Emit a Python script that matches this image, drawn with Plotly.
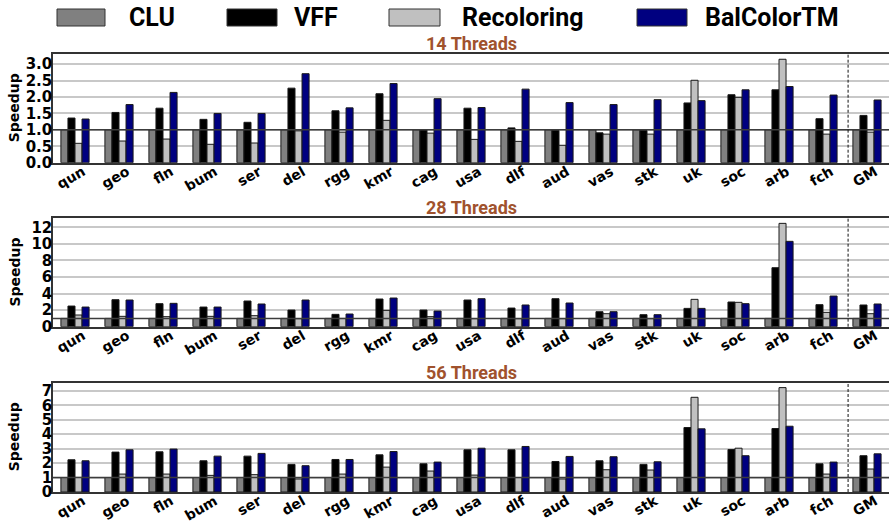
import plotly.graph_objects as go
from plotly.subplots import make_subplots

graphs = ["qun", "geo", "fln", "bum", "ser", "del", "rgg", "kmr", "cag", "usa",
          "dlf", "aud", "vas", "stk", "uk", "soc", "arb", "fch", "GM"]
series = ["CLU", "VFF", "Recoloring", "BalColorTM"]
colors = ["#808080", "#000000", "#c0c0c0", "#000080"]
panel_titles = ["14 Threads", "28 Threads", "56 Threads"]
y_title = "Speedup"

# 14 threads
clu_14 = [1.0, 1.0, 1.0, 1.0, 1.0, 1.0, 1.0, 1.0, 1.0, 1.0, 1.0, 1.0, 1.0, 1.0, 1.0, 1.0, 1.0, 1.0, 1.0]
vff_14 = [1.36, 1.53, 1.66, 1.32, 1.23, 2.27, 1.58, 2.10, 1.00, 1.66, 1.06, 0.98, 0.91, 0.98, 1.82, 2.07, 2.22, 1.34, 1.44]
rec_14 = [0.59, 0.66, 0.72, 0.56, 0.60, 0.97, 0.93, 1.29, 0.90, 0.71, 0.65, 0.53, 0.87, 0.87, 2.51, 1.99, 3.15, 0.87, 0.93]
bal_14 = [1.33, 1.77, 2.14, 1.50, 1.50, 2.71, 1.67, 2.41, 1.95, 1.68, 2.24, 1.83, 1.77, 1.92, 1.89, 2.22, 2.32, 2.06, 1.91]

# 28 threads
clu_28 = [1.0, 1.0, 1.0, 1.0, 1.0, 1.0, 1.0, 1.0, 1.0, 1.0, 1.0, 1.0, 1.0, 1.0, 1.0, 1.0, 1.0, 1.0, 1.0]
vff_28 = [2.49, 3.26, 2.78, 2.37, 3.10, 2.01, 1.49, 3.34, 2.01, 3.22, 2.25, 3.38, 1.81, 1.45, 2.21, 2.98, 7.12, 2.66, 2.62]
rec_28 = [1.41, 1.25, 1.21, 1.25, 1.33, 0.97, 1.00, 1.97, 1.21, 0.97, 0.97, 0.97, 1.57, 0.97, 3.30, 2.94, 12.47, 1.73, 1.57]
bal_28 = [2.37, 3.22, 2.82, 2.37, 2.74, 3.22, 1.53, 3.46, 1.89, 3.38, 2.62, 2.86, 1.81, 1.45, 2.21, 2.78, 10.30, 3.70, 2.74]

# 56 threads
clu_56 = [1.0, 1.0, 1.0, 1.0, 1.0, 1.0, 1.0, 1.0, 1.0, 1.0, 1.0, 1.0, 1.0, 1.0, 1.0, 1.0, 1.0, 1.0, 1.0]
vff_56 = [2.23, 2.76, 2.78, 2.16, 2.48, 1.91, 2.25, 2.57, 1.95, 2.92, 2.92, 2.11, 2.16, 1.91, 4.46, 2.94, 4.39, 1.95, 2.51]
rec_56 = [1.01, 1.24, 1.24, 1.15, 1.20, 0.90, 1.24, 1.72, 1.45, 1.17, 1.00, 0.90, 1.54, 1.52, 6.55, 3.03, 7.22, 1.24, 1.59]
bal_56 = [2.16, 2.92, 2.97, 2.48, 2.67, 1.82, 2.25, 2.80, 2.07, 3.03, 3.15, 2.46, 2.44, 2.09, 4.37, 2.51, 4.55, 2.07, 2.64]

panels = [
    [clu_14, vff_14, rec_14, bal_14],
    [clu_28, vff_28, rec_28, bal_28],
    [clu_56, vff_56, rec_56, bal_56],
]
y_ranges = [[0, 3.31], [0, 13.08], [0, 7.56]]
y_dticks = [0.5, 2, 1]
y_formats = [".1f", "d", "d"]

W, H = 889, 528
ML, MR, MT, MB = 53, 0, 54, 36
PW, PH = W - ML - MR, H - MT - MB


def px_x(px):
    return (px - ML) / PW


def px_y(py):
    return (H - MB - py) / PH


domains = [[px_y(162.7), 1.0], [px_y(326.7), px_y(218.3)], [0.0, px_y(382.7)]]

fig = make_subplots(rows=3, cols=1, shared_xaxes=False, vertical_spacing=0.05)

for r, data in enumerate(panels, start=1):
    for s, (name, col, vals) in enumerate(zip(series, colors, data)):
        fig.add_trace(go.Bar(
            x=graphs, y=vals, name=name, showlegend=False,
            marker=dict(color=col, line=dict(color="#1a1a1a", width=1)),
        ), row=r, col=1)

tick_font = dict(family="DejaVu Sans", size=15, color="#000", weight="bold")
xtick_font = dict(family="DejaVu Sans", size=14, color="#000", weight="bold")
title_font = dict(family="DejaVu Sans", size=14, color="#000", weight="bold")

shapes = []
annotations = []
for i in range(3):
    xa = "xaxis" if i == 0 else f"xaxis{i+1}"
    ya = "yaxis" if i == 0 else f"yaxis{i+1}"
    xr = "x" if i == 0 else f"x{i+1}"
    yr = "y" if i == 0 else f"y{i+1}"
    fig.layout[xa].update(
        domain=[0, 1], range=[-0.5, 18.5], type="category",
        showline=True, linecolor="#333", linewidth=1.5, mirror=True,
        showgrid=False, ticks="", ticklen=0, tickangle=-30, tickfont=xtick_font,
        ticklabelstandoff=-6, ticklabelshift=8, automargin=False,
    )
    fig.layout[ya].update(
        domain=domains[i], range=y_ranges[i], dtick=y_dticks[i], tick0=0,
        tickformat=y_formats[i], showline=True, linecolor="#333", linewidth=1.5,
        showgrid=True, gridcolor="#c8c8c8", gridwidth=1.5, zeroline=False,
        ticks="", ticklen=0, tickfont=tick_font, ticklabelstandoff=-4,
        automargin=False,
    )
    # y-axis title
    annotations.append(dict(text=y_title, xref="paper", yref="paper", x=px_x(14),
                            y=(domains[i][0] + domains[i][1]) / 2, textangle=-90,
                            xanchor="center", yanchor="middle", showarrow=False, font=title_font))
    # reference line at speedup 1
    shapes.append(dict(type="line", xref=f"{xr} domain", yref=yr, x0=0, x1=1, y0=1, y1=1,
                       line=dict(color="#3c3c3c", width=1.5), layer="above"))
    # separator before geometric mean
    shapes.append(dict(type="line", xref=xr, yref=f"{yr} domain", x0=17.57, x1=17.57, y0=0, y1=1,
                       line=dict(color="#111", width=1, dash="3px,2px"), layer="above"))
    annotations.append(dict(text=panel_titles[i], xref="paper", yref="paper", x=0.5, y=domains[i][1],
                            yanchor="bottom", yshift=-2, showarrow=False,
                            font=dict(family="Roboto", size=18, color="#a0522d", weight="bold")))

# manual legend
legend_boxes = [(57, 105), (227, 277), (389, 440), (637, 687)]
legend_text_x = [127, 292, 460, 703]
for (x0, x1), tx, name, col in zip(legend_boxes, legend_text_x, series, colors):
    shapes.append(dict(type="rect", xref="paper", yref="paper",
                       x0=px_x(x0), x1=px_x(x1), y0=px_y(26), y1=px_y(9),
                       fillcolor=col, line=dict(color="#333", width=1), layer="above"))
    annotations.append(dict(text=name, xref="paper", yref="paper", x=px_x(tx), y=px_y(17.5),
                            xanchor="left", yanchor="middle", showarrow=False,
                            font=dict(family="Roboto", size=25, color="#000", weight="bold")))

fig.update_layout(
    width=W, height=H, barmode="group", bargap=0.36, bargroupgap=0,
    margin=dict(l=ML, r=MR, t=MT, b=MB, autoexpand=False),
    plot_bgcolor="white", paper_bgcolor="white",
    shapes=shapes, annotations=annotations, showlegend=False,
)

fig.write_html("out.html")
